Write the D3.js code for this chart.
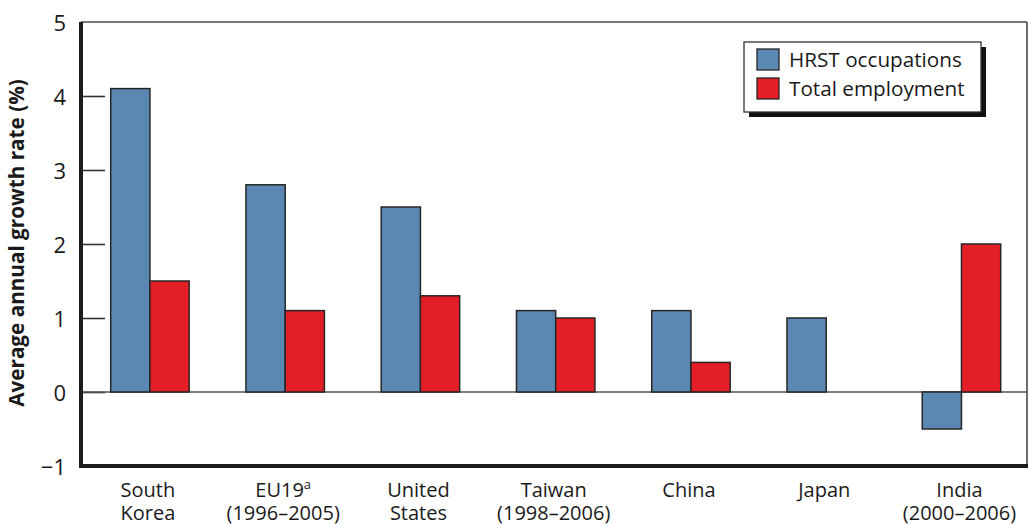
<!DOCTYPE html>
<html>
<head>
<meta charset="utf-8">
<script src="https://cdn.jsdelivr.net/npm/d3@7"></script>
<style>
  html, body { margin: 0; padding: 0; background: #fff; }
  svg { display: block; }
  text { font-family: "Open Sans", "Noto Sans", sans-serif; fill: #1a1a1a; }
</style>
</head>
<body>
<svg id="chart" width="1030" height="524"></svg>
<script>
// ---- data ----
const categories = ["South Korea", "EU19", "United States", "Taiwan", "China", "Japan", "India"];
const labelLine1 = ["South", "EU19", "United", "Taiwan", "China", "Japan", "India"];
const labelSup   = ["", "a", "", "", "", "", ""];
const labelLine2 = ["Korea", "(1996–2005)", "States", "(1998–2006)", "", "", "(2000–2006)"];
const seriesNames = ["HRST occupations", "Total employment"];
const hrstValues  = [4.1, 2.8, 2.5, 1.1, 1.1, 1.0, -0.5];
const totalValues = [1.5, 1.1, 1.3, 1.0, 0.4, null, 2.0];
const yTicks = [-1, 0, 1, 2, 3, 4, 5];
const colors = ["#5b88b3", "#e41e26"];

// ---- layout ----
const svg = d3.select("#chart");
const pLeft = 81, pRight = 1027, pTop = 22, pBottom = 466;

const y = d3.scaleLinear().domain([-1, 5]).range([pBottom, pTop]);
const x = d3.scaleBand().domain(categories).range([110.7, 1000.7]).paddingInner(0.42).paddingOuter(0);
const xs = d3.scaleBand().domain(seriesNames).range([0, x.bandwidth()]).padding(0);
const color = d3.scaleOrdinal().domain(seriesNames).range(colors);

const rows = categories.map((c, i) => ({
  cat: c,
  values: [
    { s: seriesNames[0], v: hrstValues[i] },
    { s: seriesNames[1], v: totalValues[i] }
  ]
}));

// top & right frame (thin)
svg.append("line").attr("x1", pLeft).attr("x2", pRight).attr("y1", pTop).attr("y2", pTop)
  .attr("stroke", "#4a4a4a").attr("stroke-width", 1.6);
svg.append("line").attr("x1", pRight).attr("x2", pRight).attr("y1", pTop).attr("y2", pBottom)
  .attr("stroke", "#4a4a4a").attr("stroke-width", 1.6);

// y axis ticks (inside) and labels
const yAxis = d3.axisLeft(y).tickValues(yTicks).tickSize(-24).tickPadding(15)
  .tickFormat(d3.format("d"));
const gy = svg.append("g").attr("transform", `translate(${pLeft},0)`).call(yAxis);
gy.select(".domain").remove();
gy.selectAll(".tick line").attr("stroke", "#333").attr("stroke-width", 1.6)
  .attr("display", d => (d === -1 || d === 5) ? "none" : null);
gy.selectAll(".tick text")
  .attr("font-size", 22).attr("fill", "#1a1a1a")
  .style("font-family", "'Open Sans', 'Noto Sans', sans-serif")
  .attr("dy", "0.4em");

// zero line
svg.append("line").attr("x1", pLeft).attr("x2", pRight).attr("y1", y(0)).attr("y2", y(0))
  .attr("stroke", "#555").attr("stroke-width", 1.6);

// bars
const groups = svg.append("g").selectAll("g").data(rows).join("g")
  .attr("transform", d => `translate(${x(d.cat)},0)`);
groups.selectAll("rect").data(d => d.values.filter(e => e.v !== null)).join("rect")
  .attr("x", d => xs(d.s))
  .attr("width", xs.bandwidth())
  .attr("y", d => y(Math.max(0, d.v)))
  .attr("height", d => Math.abs(y(d.v) - y(0)))
  .attr("fill", d => color(d.s))
  .attr("stroke", "#262626")
  .attr("stroke-width", 1.5);

// thick left and bottom axes
svg.append("line").attr("x1", pLeft).attr("x2", pLeft).attr("y1", pTop).attr("y2", pBottom + 2)
  .attr("stroke", "#1c1c1c").attr("stroke-width", 4);
svg.append("line").attr("x1", pLeft - 2).attr("x2", pRight + 1).attr("y1", pBottom).attr("y2", pBottom)
  .attr("stroke", "#1c1c1c").attr("stroke-width", 4);

// x labels
const xl = svg.append("g").selectAll("text").data(categories).join("text")
  .attr("text-anchor", "middle")
  .attr("font-size", 20);
xl.each(function(d, i) {
  const t = d3.select(this);
  const cx = x(d) + x.bandwidth() / 2 - 2;
  t.append("tspan").attr("x", cx).attr("y", 497).text(labelLine1[i]);
  if (labelSup[i]) {
    t.append("tspan").attr("font-size", 13).attr("dy", -8).text(labelSup[i]);
  }
  if (labelLine2[i]) {
    t.append("tspan").attr("x", cx).attr("y", 519.5).text(labelLine2[i]);
  }
});

// y axis title
svg.append("text")
  .attr("transform", `translate(24,243) rotate(-90)`)
  .attr("text-anchor", "middle")
  .attr("font-size", 20.7)
  .attr("font-weight", "bold")
  .text("Average annual growth rate (%)");

// legend
const lg = svg.append("g").attr("transform", "translate(744,42)");
lg.append("rect").attr("x", 5).attr("y", 5).attr("width", 237).attr("height", 70).attr("fill", "#111");
lg.append("rect").attr("x", 0).attr("y", 0).attr("width", 237).attr("height", 70)
  .attr("fill", "#fff").attr("stroke", "#333").attr("stroke-width", 1.3);
const li = lg.selectAll("g.item").data(seriesNames).join("g").attr("class", "item")
  .attr("transform", (d, i) => `translate(13,${7 + i * 29})`);
li.append("rect").attr("width", 22).attr("height", 21)
  .attr("fill", d => color(d)).attr("stroke", "#262626").attr("stroke-width", 1.3);
li.append("text").attr("x", 32).attr("y", 17.5).attr("font-size", 20.7).text(d => d);
</script>
</body>
</html>
